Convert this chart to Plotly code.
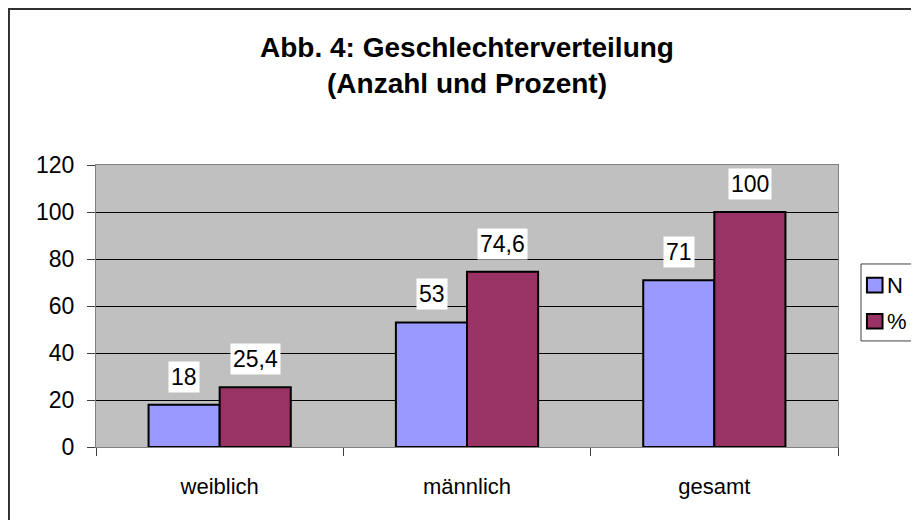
import plotly.graph_objects as go

categories = ["weiblich", "männlich", "gesamt"]
n_values = [18, 53, 71]
pct_values = [25.4, 74.6, 100]
series_names = ["N", "%"]
y_ticks = [0, 20, 40, 60, 80, 100, 120]

colors = ["#9999FF", "#993366"]
font_family = "Arial, Liberation Sans, sans-serif"

fig = go.Figure()
for name, vals, col in zip(series_names, [n_values, pct_values], colors):
    fig.add_trace(
        go.Bar(
            x=categories,
            y=vals,
            name=name,
            marker=dict(color=col, line=dict(color="black", width=2)),
            showlegend=False,
        )
    )

# data labels with white boxes, like the old Excel look
bar_px = 71
for i, vals in enumerate([n_values, pct_values]):
    shift = (-bar_px / 2) if i == 0 else (bar_px / 2)
    for cat, v in zip(categories, vals):
        fig.add_annotation(
            x=cat,
            y=v,
            text=str(v).replace(".", ","),
            showarrow=False,
            xshift=shift,
            yshift=12,
            yanchor="bottom",
            bgcolor="white",
            borderpad=2,
            font=dict(size=23, color="black", family=font_family),
        )

# outer chart border (cut off at right/bottom in the reference)
fig.add_shape(
    type="rect", xref="paper", yref="paper",
    x0=-0.1173, x1=1.3, y0=-0.6, y1=1.553,
    line=dict(color="#303030", width=2),
    fillcolor="rgba(0,0,0,0)", layer="below",
)

# Excel-style legend box (also clipped at the right edge)
fig.add_shape(
    type="rect", xref="paper", yref="paper",
    x0=1.031, x1=1.2, y0=0.376, y1=0.649,
    line=dict(color="#404040", width=1),
    fillcolor="white",
)
for k, (name, col) in enumerate(zip(series_names, colors)):
    yc = 0.574 - k * 0.128
    fig.add_shape(
        type="rect", xref="paper", yref="paper",
        x0=1.039, x1=1.060, y0=yc - 0.026, y1=yc + 0.026,
        line=dict(color="black", width=2),
        fillcolor=col,
    )
    fig.add_annotation(
        x=1.064, y=yc, xref="paper", yref="paper",
        text=name, showarrow=False, xanchor="left", yanchor="middle",
        font=dict(size=22, color="black", family=font_family),
    )

fig.update_layout(
    width=919,
    height=520,
    paper_bgcolor="white",
    plot_bgcolor="#C0C0C0",
    font=dict(family=font_family, size=22, color="black"),
    title=dict(
        text="<b>Abb. 4: Geschlechterverteilung<br>(Anzahl und Prozent)</b>",
        x=0.5,
        xref="paper",
        xanchor="center",
        y=1 - 49 / 520,
        yref="container",
        yanchor="top",
        font=dict(size=28, family=font_family, color="black"),
    ),
    barmode="group",
    bargap=0.425,
    bargroupgap=0,
    margin=dict(l=88, r=89, t=157, b=81, autoexpand=False),
    showlegend=False,
)

fig.update_yaxes(
    range=[0, 120],
    tickvals=y_ticks,
    showgrid=True,
    gridcolor="black",
    gridwidth=1,
    zeroline=True,
    zerolinecolor="black",
    zerolinewidth=1,
    showline=True,
    linecolor="#808080",
    linewidth=1,
    mirror=True,
    ticks="outside",
    ticklen=8,
    tickcolor="#404040",
    ticklabelstandoff=8,
    tickfont=dict(size=23),
)
fig.update_xaxes(
    showline=True,
    linecolor="#808080",
    linewidth=1,
    mirror=True,
    ticks="outside",
    tickson="boundaries",
    ticklen=8,
    tickcolor="#404040",
    ticklabelstandoff=20,
    tickfont=dict(size=22),
)

fig.write_html("out.html")
